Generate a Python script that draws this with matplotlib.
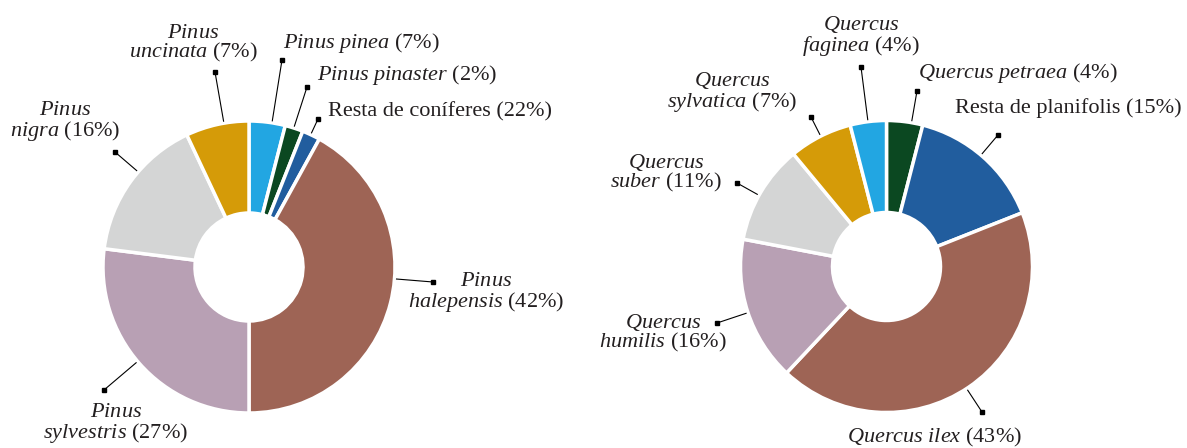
import numpy as np
import matplotlib
matplotlib.use("Agg")
import matplotlib.pyplot as plt

"""
  Composició d'espècies: coníferes i planifolis (dos anells)
"""

plt.rcParams['font.family'] = ['Liberation Serif', 'DejaVu Serif']
plt.rcParams['mathtext.fontset'] = 'custom'
plt.rcParams['mathtext.rm'] = 'Liberation Serif'
plt.rcParams['mathtext.it'] = 'Liberation Serif:italic'

# ---- data (clockwise from 12 o'clock) ----
conif_names = ["Pinus pinea", "Pinus pinaster", "Resta de coníferes", "Pinus halepensis",
               "Pinus sylvestris", "Pinus nigra", "Pinus uncinata"]
conif_values = [4, 2, 2, 42, 27, 16, 7]          # slice sizes as drawn
conif_pct_text = [7, 2, 22, 42, 27, 16, 7]       # percentages as printed

planif_names = ["Quercus petraea", "Resta de planifolis", "Quercus ilex", "Quercus humilis",
                "Quercus suber", "Quercus sylvatica", "Quercus faginea"]
planif_values = [4, 15, 43, 16, 11, 7, 4]
planif_pct_text = [4, 15, 43, 16, 11, 7, 4]

conif_colors = ["#22a6e2", "#0b4821", "#215d9e", "#9e6455", "#b8a0b4", "#d4d5d5", "#d59b08"]
planif_colors = ["#0b4821", "#215d9e", "#9e6455", "#b8a0b4", "#d4d5d5", "#d59b08", "#22a6e2"]

# ---- layout (pixels, y measured from top) ----
W, H = 1187, 448
R, RING = 146, 92
TXT = "#231f20"

conif_layout = dict(
    center=(249, 267),
    two_lines=[False, False, False, True, True, True, True],
    text_pos=[(283, 43, 'left'), (317, 75, 'left'), (328, 112, 'left'), (486, 293, 'center'),
              (116, 424, 'center'), (65, 122, 'center'), (193, 44, 'center')],
    marker=[(282, 60), (307, 87), (318, 119), (433, 282), (104, 390), (115, 152), (215, 72)],
)
planif_layout = dict(
    center=(886.5, 266.5),
    two_lines=[False, False, False, True, True, True, True],
    text_pos=[(918, 73, 'left'), (955, 108, 'left'), (935, 437, 'center'), (663, 333, 'center'),
              (666, 173, 'center'), (732, 92, 'center'), (861, 36, 'center')],
    marker=[(917, 91), (998, 135), (982, 412), (717, 323), (737, 183), (811, 117), (861, 67)],
)


def make_label(name, pct, two_lines):
    if name.startswith("Resta"):
        return f"{name} ({pct}%)"
    genus, species = name.split()
    if two_lines:
        return f"$\\mathit{{{genus}}}$\n$\\mathit{{{species}}}$ ({pct}%)"
    return f"$\\mathit{{{genus}\\ {species}}}$ ({pct}%)"


fig = plt.figure(figsize=(W / 100, H / 100), dpi=100)
ax = fig.add_axes([0, 0, 1, 1])


def donut(values, colors, names, pcts, lay):
    cx, cy = lay['center'][0], H - lay['center'][1]
    ax.pie(values, colors=colors, startangle=90, counterclock=False, radius=R,
           center=(cx, cy),
           wedgeprops=dict(width=RING, edgecolor='white', linewidth=2.5))
    for i, name in enumerate(names):
        mx, my = lay['marker'][i][0], H - lay['marker'][i][1]
        d = np.array([mx - cx, my - cy])
        u = d / np.hypot(*d)
        sx, sy = cx + R * 1.01 * u[0], cy + R * 1.01 * u[1]
        ax.plot([sx, mx], [sy, my], color='black', lw=0.8, solid_capstyle='butt')
        ax.plot(mx, my, marker='s', ms=3, color='black')
        tx, ty, ha = lay['text_pos'][i]
        ax.text(tx, H - ty, make_label(name, pcts[i], lay['two_lines'][i]),
                ha=ha, va='center', multialignment='center', fontsize=16,
                color=TXT, linespacing=0.92)


donut(conif_values, conif_colors, conif_names, conif_pct_text, conif_layout)
donut(planif_values, planif_colors, planif_names, planif_pct_text, planif_layout)

ax.set_xlim(0, W)
ax.set_ylim(0, H)
ax.set_aspect('equal')
ax.axis('off')

fig.savefig("out.png", dpi=100)
